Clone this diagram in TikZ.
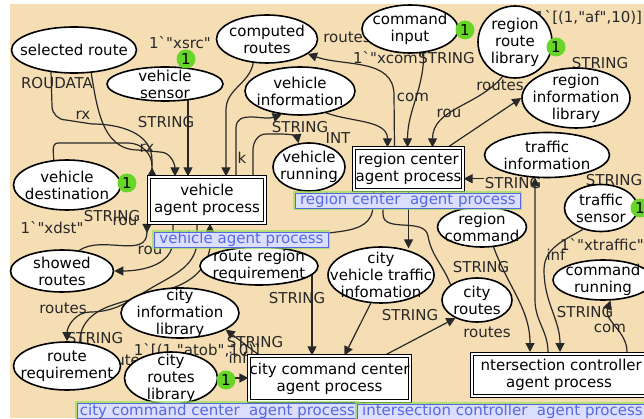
\documentclass[tikz,border=0pt]{standalone}
\usepackage{fontspec}
\setmainfont{DejaVu Sans}[Ligatures=TeXOff]
\usetikzlibrary{shapes.geometric,arrows.meta}
\definecolor{paper}{RGB}{245,222,180}
\definecolor{tokgreen}{RGB}{104,214,40}
\definecolor{lblfill}{RGB}{220,222,255}
\definecolor{lblblue}{RGB}{84,104,224}
\definecolor{glow}{RGB}{150,222,90}
\definecolor{ink}{RGB}{40,40,40}
\newcommand{\fs}{\fontsize{15}{17}\selectfont}
\pgfdeclarelayer{paperlayer}
\pgfdeclarelayer{arclayer}
\pgfsetlayers{paperlayer,arclayer,main}
\tikzset{
  place/.style={ellipse, draw=black, line width=1.6pt, fill=white, inner sep=0pt},
  ptext/.style={align=center, font=\fs, inner sep=0pt, text=black},
  trans/.style={rectangle, draw=black, double=white, double distance=2.4pt,
    line width=1.2pt, fill=white, inner sep=0pt},
  lbl/.style={rectangle, draw=lblblue, fill=lblfill, text=lblblue, line width=0.8pt,
    inner sep=0pt, font=\fs, anchor=north west,
    preaction={draw=glow, line width=4pt, opacity=0.7}},
  token/.style={circle, fill=tokgreen, inner sep=0pt, minimum size=19pt, font=\fs},
  ins/.style={font=\fs, text=ink, inner sep=0pt},
  wire/.style={draw=ink, line width=1.2pt},
  arc/.style={wire, -{Triangle[length=9pt,width=9pt]}},
  backhead/.style={{Triangle[reversed,length=9pt,width=9pt]}-},
}
\newcommand{\placenode}[5]{%
  \node[place, minimum width=#3pt, minimum height=#4pt] (#1) at (#2) {};
  \node[ptext] at (#1.center) {#5};}
\begin{document}
\begin{tikzpicture}[x=1pt,y=-1pt]
\useasboundingbox (0,0) rectangle (644,419);
\begin{pgfonlayer}{paperlayer}
  \fill[white] (0,0) rectangle (644,419);
  \fill[paper] (10,4) rectangle (644,418);
\end{pgfonlayer}

% places
\placenode{sel}{74,50}{125}{46}{selected route}
\placenode{vsens}{165,84}{116}{34}{vehicle\\sensor}
\placenode{comp}{267,39}{101}{48}{computed\\routes}
\placenode{cmdin}{410,29}{96}{48}{command\\input}
\placenode{rrl}{515,42}{74}{72}{region\\route\\library}
\placenode{ril}{576,98}{108}{60}{region\\information\\library}
\placenode{vinfo}{300,91}{110}{48}{vehicle\\information}
\placenode{vrun}{309,167}{72}{48}{vehicle\\running}
\placenode{tinfo}{547,155}{125}{45}{traffic\\information}
\placenode{tsens}{601,208}{73}{47}{traffic\\sensor}
\placenode{cmdrun}{603,280}{100}{40}{command\\running}
\placenode{vdest}{67,185}{107}{50}{vehicle\\destination}
\placenode{showed}{62,271}{103}{42}{showed\\routes}
\placenode{rreq}{67,366}{107}{48}{route\\requirement}
\placenode{cinfo}{180,313}{118}{50}{city\\information\\library}
\placenode{crl}{171,378}{93}{52}{city\\routes\\library}
\placenode{rrr}{259,266}{118}{38}{route region\\requirement}
\placenode{cvti}{381,275}{106}{56}{city\\vehicle traffic\\infomation}
\placenode{rcmd}{482,227}{89}{40}{region\\command}
\placenode{croutes}{477,300}{70}{44}{city\\routes}

% transitions
\node[trans, minimum width=116pt, minimum height=46pt] (vap) at (207,200) {};
\node[ptext] at (vap.center) {vehicle\\agent process};
\node[trans, minimum width=109pt, minimum height=42pt] (rcap) at (408.5,169) {};
\node[ptext] at (rcap.center) {region center\\agent process};
\node[trans, minimum width=161pt, minimum height=45pt] (cccap) at (329.5,378.5) {};
\node[ptext] at (cccap.center) {city command center\\agent process};
\node[trans, minimum width=182pt, minimum height=42pt] (icap) at (563,375) {};
\node[ptext, anchor=north east] at (642,359) {ntersection controller};
\node[ptext] at (559,384) {agent process};

% transition labels
\node[lbl, minimum width=225pt, minimum height=14pt] (rcapL) at (295,193) {region center\ \ agent process};
\node[lbl, minimum width=174pt, minimum height=12pt] (vapL) at (154,232) {vehicle agent process};
\node[lbl, minimum width=280pt, minimum height=15pt] (cccapL) at (77,403) {city command center\ \ agent process};
\node[lbl, minimum width=290pt, minimum height=14pt] (icapL) at (357,404) {intersection controller\ \ agent process};

% tokens
\node[token] (t1) at (186,59) {1};
\node[token] (t2) at (465,30) {1};
\node[token] (t3) at (556,47) {1};
\node[token] (t4) at (127,183) {1};
\node[token] (t5) at (640,208) {1};
\node[token] (t6) at (226,380) {1};

\begin{pgfonlayer}{arclayer}
% arcs around the vehicle agent process
\draw[arc, backhead] ([xshift=-55pt]vap.north) -- (152,160) to[out=90,in=0] (92,124)
  -- (66,120) to[out=180,in=-90] (52,106) -- (sel.-136);
\draw[wire] (vdest.118) to[out=90,in=180] (58,143) -- (128,143) to[out=0,in=90] (152,166);
\draw[arc] (90,66) to[out=-80,in=180] (138,150) -- (160,152) to[out=0,in=90] ([xshift=-32pt]vap.north);
\draw[arc] (188,90) -- ([xshift=-19pt]vap.north);
\draw[arc] (comp.-120) to[out=-100,in=90] (226,110) -- ([xshift=19pt]vap.north);
\draw[arc] ([xshift=29pt]vap.north) -- (236,128) to[out=90,in=200] (vinfo.-128);
\draw[arc] ([xshift=46pt]vap.north) -- (253,150) to[out=90,in=180] (266,134)
  -- (282,134) to[out=0,in=100] (vrun.114);
\draw[arc] (173,215) -- (173,240) to[out=-90,in=0] (showed.east);
\draw[wire, backhead] (147,224) -- (147,232) to[out=-90,in=35] (showed.50);
\draw[arc] (197,215) -- (197,240) to[out=-90,in=30] (153,287)
  to[out=210,in=0] (90,312) to[out=180,in=90] (rreq.north);
\draw[arc] (rreq.62) to[out=90,in=200] (110,306) to[out=20,in=-100] (210,248)
  -- ([xshift=3pt]vap.south);

% arcs around the region center agent process
\draw[arc] (vinfo.-40) to[out=-20,in=90] ([xshift=-21pt]rcap.north);
\draw[arc] ([xshift=-14pt]rcap.north) -- (394,95) to[out=90,in=-20] (comp.-20);
\draw[arc] (cmdin.-60) to[out=-90,in=90] ([xshift=-1pt]rcap.north);
\draw[arc] (rrl.-110) to[out=-130,in=90] ([xshift=24pt]rcap.north);
\draw[arc] ([xshift=39pt]rcap.north) -- (ril.west);
\draw[arc] (tinfo.west |- rcap.-10) -- (rcap.-10);
\draw[arc] ([xshift=-35pt]rcap.south) -- (373,205) to[out=-90,in=40] (rrr.30);
\draw[arc] (rcap.south) -- (rcap.south |- cvti.52);
\draw[arc] (croutes.150) to[out=110,in=-80] (428,236) to[out=100,in=-90] (383,214)
  -- ([xshift=-25pt]rcap.south);

% arcs around the intersection controller
\draw[arc] (rcmd.-60) to[out=-70,in=90] (530,352);
\draw[arc] (548,352) to[out=90,in=-90] (535,300) -- (535,177.5);
\draw[arc] (tsens.-130) to[out=-150,in=90] (544,270) to[out=-90,in=90] (560,352);
\draw[arc] (627,352) to[out=90,in=-110] (cmdrun.-70);

% arcs around the city command center
\draw[arc] (312,275) -- ([xshift=-17.5pt]cccap.north);
\draw[arc] (cvti.-110) -- ([xshift=15pt]cccap.north);
\draw[arc] ([xshift=-70pt]cccap.north) -- (cinfo.-20);
\draw[arc] (crl.east) -- (cccap.west |- crl.east);
\draw[arc] ([xshift=55pt]cccap.north) -- (croutes.-140);

% inscriptions and colour sets
\node[ins] at (180,43) {1`"xsrc"};
\node[ins] at (57,83) {ROUDATA};
\node[ins] at (83,115) {rx};
\node[ins] at (166,122) {STRING};
\node[ins] at (147,148) {rx};
\node[ins] at (347,37) {routes};
\node[ins, anchor=west] at (353,58) {1`"xcom"};
\node[ins, anchor=east] at (475,58) {STRING};
\node[ins, anchor=west] at (535,17) {1`[(1,"af",10)]};
\node[ins] at (600,63) {STRING};
\node[ins] at (500,85) {routes};
\node[ins] at (413,97) {com};
\node[ins] at (449,113) {rou};
\node[ins] at (300,127) {STRING};
\node[ins] at (338,138) {INT};
\node[ins] at (242,158) {k};
\node[ins] at (513,183) {STRING};
\node[ins] at (614,180) {STRING};
\node[ins] at (602,245) {1`"xtraffic"};
\node[ins] at (556,255) {inf};
\node[ins] at (112,216) {STRING};
\node[ins] at (125,221) {rou};
\node[ins] at (52,228) {1`"xdst"};
\node[ins] at (150,250) {rou};
\node[ins] at (481,267) {STRING};
\node[ins] at (63,308) {routes};
\node[ins] at (95,338) {STRING};
\node[ins] at (124,360) {routes};
\node[ins] at (197,350) {1`[(1,"atob",10)]};
\node[ins] at (255,342) {STRING};
\node[ins] at (238,358) {inf};
\node[ins] at (297,298) {STRING};
\node[ins] at (410,315) {STRING};
\node[ins] at (487,332) {routes};
\node[ins] at (585,312) {STRING};
\node[ins] at (610,328) {com};
\end{pgfonlayer}
\end{tikzpicture}
\end{document}
